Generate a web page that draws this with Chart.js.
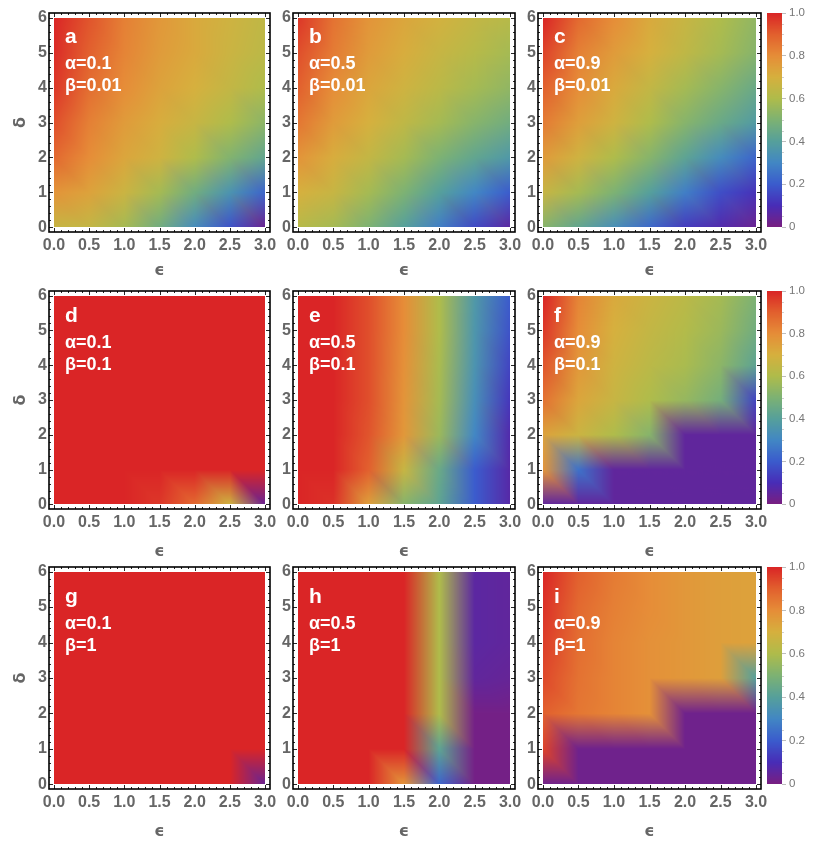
<!DOCTYPE html>
<html>
<head>
<meta charset="utf-8">
<script src="https://cdn.jsdelivr.net/npm/chart.js@4.4.1/dist/chart.umd.min.js"></script>
<style>
  html, body { margin: 0; padding: 0; background: #fff; }
  #wrap { position: relative; width: 830px; height: 858px; overflow: hidden; }
  #wrap canvas { position: absolute; }
</style>
</head>
<body>
<div id="wrap"></div>
<script>
// grid on which the values were sampled
const epsValues = [0, 0.5, 1, 1.5, 2, 2.5, 3];
const deltaValues = [0, 1, 2, 3, 4, 5, 6];

// tick labels
const epsTicks = [0, 0.5, 1, 1.5, 2, 2.5, 3];
const deltaTicks = [0, 1, 2, 3, 4, 5, 6];
const barTicks = [0, 0.2, 0.4, 0.6, 0.8, 1];

// panel captions
const letters = ['a', 'b', 'c', 'd', 'e', 'f', 'g', 'h', 'i'];
const alphas = [0.1, 0.5, 0.9, 0.1, 0.5, 0.9, 0.1, 0.5, 0.9];
const betas = [0.01, 0.01, 0.01, 0.1, 0.1, 0.1, 1, 1, 1];

// values, one row per delta (top row = delta 6), one column per epsilon
const gridA = [
  [1.00, 0.92, 0.83, 0.77, 0.72, 0.68, 0.64],
  [0.99, 0.90, 0.82, 0.76, 0.72, 0.67, 0.63],
  [0.97, 0.87, 0.80, 0.74, 0.70, 0.65, 0.60],
  [0.93, 0.83, 0.76, 0.71, 0.66, 0.60, 0.53],
  [0.88, 0.80, 0.73, 0.68, 0.60, 0.51, 0.43],
  [0.78, 0.74, 0.67, 0.58, 0.47, 0.35, 0.22],
  [0.66, 0.65, 0.58, 0.47, 0.32, 0.18, 0.03]
];
const gridB = [
  [0.97, 0.86, 0.78, 0.73, 0.69, 0.65, 0.62],
  [0.93, 0.84, 0.76, 0.71, 0.66, 0.62, 0.58],
  [0.90, 0.80, 0.73, 0.68, 0.63, 0.58, 0.54],
  [0.85, 0.76, 0.70, 0.64, 0.58, 0.52, 0.47],
  [0.78, 0.71, 0.65, 0.58, 0.50, 0.43, 0.37],
  [0.70, 0.66, 0.58, 0.50, 0.40, 0.30, 0.20],
  [0.62, 0.58, 0.50, 0.40, 0.28, 0.16, 0.06]
];
const gridC = [
  [1.00, 0.88, 0.80, 0.72, 0.66, 0.60, 0.54],
  [0.95, 0.83, 0.76, 0.70, 0.64, 0.58, 0.52],
  [0.90, 0.80, 0.72, 0.65, 0.58, 0.52, 0.45],
  [0.84, 0.75, 0.68, 0.60, 0.52, 0.45, 0.38],
  [0.76, 0.68, 0.60, 0.52, 0.42, 0.32, 0.22],
  [0.66, 0.58, 0.50, 0.40, 0.28, 0.17, 0.11],
  [0.52, 0.43, 0.33, 0.23, 0.13, 0.08, 0.03]
];
const gridD = [
  [1, 1, 1, 1, 1, 1, 1],
  [1, 1, 1, 1, 1, 1, 1],
  [1, 1, 1, 1, 1, 1, 1],
  [1, 1, 1, 1, 1, 1, 1],
  [1, 1, 1, 1, 1, 1, 1],
  [1, 1, 1, 1, 1, 1, 1],
  [1, 1, 1, 0.97, 0.88, 0.68, 0.03]
];
const gridE = [
  [1, 1, 0.93, 0.80, 0.60, 0.37, 0.20],
  [1, 1, 0.93, 0.80, 0.60, 0.36, 0.18],
  [1, 1, 0.93, 0.79, 0.59, 0.35, 0.15],
  [1, 1, 0.93, 0.78, 0.58, 0.33, 0.12],
  [1, 1, 0.92, 0.77, 0.56, 0.30, 0.08],
  [1, 1, 0.90, 0.66, 0.45, 0.20, 0.07],
  [1, 0.98, 0.75, 0.52, 0.42, 0.20, 0.07]
];
const gridF = [
  [1.00, 0.82, 0.72, 0.67, 0.63, 0.58, 0.50],
  [0.97, 0.80, 0.70, 0.65, 0.61, 0.56, 0.47],
  [0.92, 0.77, 0.68, 0.63, 0.59, 0.53, 0.42],
  [0.86, 0.73, 0.66, 0.60, 0.55, 0.48, 0.15],
  [0.74, 0.67, 0.60, 0.52, 0.05, 0.05, 0.05],
  [0.78, 0.25, 0.05, 0.05, 0.05, 0.05, 0.05],
  [0.05, 0.05, 0.05, 0.05, 0.05, 0.05, 0.05]
];
const gridG = [
  [1, 1, 1, 1, 1, 1, 1],
  [1, 1, 1, 1, 1, 1, 1],
  [1, 1, 1, 1, 1, 1, 1],
  [1, 1, 1, 1, 1, 1, 1],
  [1, 1, 1, 1, 1, 1, 1],
  [1, 1, 1, 1, 1, 1, 1],
  [1, 1, 1, 1, 1, 1, 0.03]
];
const gridH = [
  [1, 1, 1, 1, 0.60, 0.06, 0.05],
  [1, 1, 1, 1, 0.60, 0.06, 0.05],
  [1, 1, 1, 1, 0.60, 0.06, 0.05],
  [1, 1, 1, 1, 0.60, 0.05, 0.04],
  [1, 1, 1, 1, 0.60, 0.01, 0.01],
  [1, 1, 1, 1, 0.42, 0.01, 0.01],
  [1, 1, 1, 0.78, 0.22, 0.01, 0.01]
];
const gridI = [
  [1.00, 0.90, 0.84, 0.80, 0.77, 0.75, 0.74],
  [0.98, 0.88, 0.83, 0.80, 0.77, 0.75, 0.74],
  [0.96, 0.87, 0.82, 0.79, 0.77, 0.75, 0.74],
  [0.94, 0.86, 0.82, 0.79, 0.77, 0.75, 0.40],
  [0.90, 0.85, 0.82, 0.79, 0.02, 0.02, 0.02],
  [0.95, 0.02, 0.02, 0.02, 0.02, 0.02, 0.02],
  [0.02, 0.02, 0.02, 0.02, 0.02, 0.02, 0.02]
];
const grids = [gridA, gridB, gridC, gridD, gridE, gridF, gridG, gridH, gridI];

// rainbow colour function, stops every 0.1
const rainbowColors = [
  [121, 31, 129], [72, 45, 183], [59, 92, 205], [66, 135, 196], [86, 160, 155],
  [125, 178, 115], [175, 188, 75], [214, 176, 62], [230, 141, 56], [226, 96, 46],
  [218, 37, 38]
];
function rainbow(v) {
  v = Math.max(0, Math.min(1, v)) * (rainbowColors.length - 1);
  const k = Math.min(Math.floor(v), rainbowColors.length - 2);
  const t = v - k;
  const a = rainbowColors[k], b = rainbowColors[k + 1];
  return [a[0] + (b[0] - a[0]) * t, a[1] + (b[1] - a[1]) * t, a[2] + (b[2] - a[2]) * t];
}

// frame positions on the page
const colLeft = [49, 293, 538];
const colRight = [270, 515, 761];
const rowTop = [13, 291, 567];
const rowBottom = [232, 509, 789];
const Y_AXIS_W = 46, X_AXIS_H = 56, PAD_T = 12, PAD_R = 14;

const tickFont = { family: 'Liberation Sans', size: 16, weight: 'bold' };
const tickColor = '#666666';

const wrap = document.getElementById('wrap');
function makeCanvas(left, top, w, h) {
  const c = document.createElement('canvas');
  c.width = w; c.height = h;
  c.style.left = left + 'px'; c.style.top = top + 'px';
  c.style.width = w + 'px'; c.style.height = h + 'px';
  wrap.appendChild(c);
  return c;
}

// density map: colours at the sample points, blended linearly over triangles
const heatmapPlugin = {
  id: 'heatmap',
  beforeDatasetsDraw(chart) {
    const { ctx, chartArea: area, scales: { x, y } } = chart;
    const pts = chart.data.datasets[0].data;
    const nx = epsValues.length, ny = deltaValues.length;
    const cols = pts.map(p => rainbow(p.v));
    const e0 = epsValues[0], e1 = epsValues[nx - 1], eStep = epsValues[1] - epsValues[0];
    const d0 = deltaValues[0], d1 = deltaValues[ny - 1], dStep = deltaValues[1] - deltaValues[0];
    const w = Math.round(area.right - area.left), h = Math.round(area.bottom - area.top);
    const off = document.createElement('canvas');
    off.width = w; off.height = h;
    const octx = off.getContext('2d');
    const img = octx.createImageData(w, h);
    for (let py = 0; py < h; py++) {
      const d = y.getValueForPixel(area.top + py + 0.5);
      if (d < d0 || d > d1) continue;
      const gy = (d - d0) / dStep;
      const j = Math.min(Math.floor(gy), ny - 2);
      const v = gy - j;
      for (let px = 0; px < w; px++) {
        const e = x.getValueForPixel(area.left + px + 0.5);
        if (e < e0 || e > e1) continue;
        const gx = (e - e0) / eStep;
        const i = Math.min(Math.floor(gx), nx - 2);
        const u = gx - i;
        const c00 = cols[j * nx + i], c10 = cols[j * nx + i + 1];
        const c01 = cols[(j + 1) * nx + i], c11 = cols[(j + 1) * nx + i + 1];
        let w00, w10, w01, w11;
        if (u + v <= 1) { w00 = 1 - u - v; w10 = u; w01 = v; w11 = 0; }
        else { w00 = 0; w10 = 1 - v; w01 = 1 - u; w11 = u + v - 1; }
        const k = (py * w + px) * 4;
        for (let ch = 0; ch < 3; ch++) {
          img.data[k + ch] = c00[ch] * w00 + c10[ch] * w10 + c01[ch] * w01 + c11[ch] * w11;
        }
        img.data[k + 3] = 255;
      }
    }
    octx.putImageData(img, 0, 0);
    ctx.drawImage(off, area.left, area.top);
  }
};

function subdivide(ticks, parts) {
  const out = [];
  for (let k = 0; k < ticks.length - 1; k++) {
    for (let m = 1; m < parts; m++) out.push(ticks[k] + (ticks[k + 1] - ticks[k]) * m / parts);
  }
  return out;
}

// Mathematica style frame, ticks on all four sides pointing inwards
const framePlugin = {
  id: 'frame',
  afterDraw(chart) {
    const { ctx, chartArea: a, scales: { x, y } } = chart;
    ctx.save();
    ctx.strokeStyle = '#262626';
    ctx.lineWidth = 1;
    const tick = (px, len, horizontal) => {
      const p = Math.round(px) + 0.5;
      ctx.beginPath();
      if (horizontal) {
        ctx.moveTo(p, a.bottom); ctx.lineTo(p, a.bottom - len);
        ctx.moveTo(p, a.top); ctx.lineTo(p, a.top + len);
      } else {
        ctx.moveTo(a.left, p); ctx.lineTo(a.left + len, p);
        ctx.moveTo(a.right, p); ctx.lineTo(a.right - len, p);
      }
      ctx.stroke();
    };
    epsTicks.forEach(v => tick(x.getPixelForValue(v), 4, true));
    subdivide(epsTicks, 5).forEach(v => tick(x.getPixelForValue(v), 2, true));
    deltaTicks.forEach(v => tick(y.getPixelForValue(v), 4, false));
    subdivide(deltaTicks, 5).forEach(v => tick(y.getPixelForValue(v), 2, false));
    ctx.strokeStyle = '#000';
    ctx.lineWidth = 1.6;
    ctx.strokeRect(a.left, a.top, a.right - a.left, a.bottom - a.top);
    ctx.restore();
  }
};

const captionPlugin = {
  id: 'caption',
  afterDraw(chart, args, opts) {
    const { ctx, chartArea: a } = chart;
    const dy = opts.shift || 0;
    ctx.save();
    ctx.fillStyle = '#ffffff';
    ctx.textBaseline = 'alphabetic';
    ctx.textAlign = 'left';
    ctx.font = 'bold 21px "Liberation Sans"';
    ctx.fillText(opts.letter, a.left + 16, a.top + 30 + dy);
    ctx.font = 'bold 18px "Liberation Sans"';
    ctx.fillText('α=' + opts.alpha, a.left + 16, a.top + 56 + dy);
    ctx.fillText('β=' + opts.beta, a.left + 16, a.top + 78 + dy);
    ctx.restore();
  }
};

function samplePoints(grid) {
  const pts = [];
  deltaValues.forEach((d, j) => {
    epsValues.forEach((e, i) => {
      pts.push({ x: e, y: d, v: grid[deltaValues.length - 1 - j][i] });
    });
  });
  return pts;
}

for (let r = 0; r < 3; r++) {
  for (let c = 0; c < 3; c++) {
    const n = r * 3 + c;
    const fw = colRight[c] - colLeft[c], fh = rowBottom[r] - rowTop[r];
    const cv = makeCanvas(colLeft[c] - Y_AXIS_W, rowTop[r] - PAD_T, Y_AXIS_W + fw + PAD_R, PAD_T + fh + X_AXIS_H);
    new Chart(cv, {
      type: 'scatter',
      data: { datasets: [{ data: samplePoints(grids[n]), pointRadius: 0 }] },
      options: {
        responsive: false,
        animation: false,
        events: [],
        layout: { padding: { left: 0, top: PAD_T, right: PAD_R, bottom: 0 } },
        plugins: {
          legend: { display: false },
          tooltip: { enabled: false },
          caption: { letter: letters[n], alpha: alphas[n], beta: betas[n], shift: [0, 1, 6][r] }
        },
        scales: {
          x: {
            type: 'linear', min: -0.07, max: 3.07,
            afterBuildTicks: s => { s.ticks = epsTicks.map(v => ({ value: v })); },
            afterFit: s => { s.height = X_AXIS_H; },
            grid: { display: false, drawTicks: false },
            border: { display: false },
            ticks: { padding: 4, maxRotation: 0, autoSkip: false, font: tickFont, color: tickColor,
                     callback: v => Number(v).toFixed(1) },
            title: { display: true, text: 'ϵ', color: tickColor, padding: { top: 0, bottom: r === 0 ? 8 : 4 },
                     font: { family: 'DejaVu Sans', size: 16, weight: 'bold' } }
          },
          y: {
            type: 'linear', min: -0.13, max: 6.13,
            afterBuildTicks: s => { s.ticks = deltaTicks.map(v => ({ value: v })); },
            afterFit: s => { s.width = Y_AXIS_W; },
            grid: { display: false, drawTicks: false },
            border: { display: false },
            ticks: { padding: 2, autoSkip: false, font: tickFont, color: tickColor,
                     callback: v => String(v) },
            title: { display: c === 0, text: 'δ', color: tickColor, padding: { top: 8, bottom: 0 },
                     font: { family: 'DejaVu Sans', size: 16, weight: 'bold' } }
          }
        }
      },
      plugins: [heatmapPlugin, framePlugin, captionPlugin]
    });
  }

  // colour bar for the row
  const barLeft = 767, barW = 15;
  const barTop = rowTop[r], barBottom = rowBottom[r] - 5;
  const bcv = makeCanvas(barLeft - 5, barTop - PAD_T, 830 - (barLeft - 5), barBottom - barTop + 2 * PAD_T);
  new Chart(bcv, {
    type: 'scatter',
    data: { datasets: [] },
    options: {
      responsive: false,
      animation: false,
      events: [],
      layout: { padding: { left: 5, top: PAD_T, right: 0, bottom: PAD_T } },
      plugins: { legend: { display: false }, tooltip: { enabled: false } },
      scales: {
        x: { display: false, min: 0, max: 1 },
        y: {
          position: 'right', min: 0, max: 1,
          afterBuildTicks: s => { s.ticks = barTicks.map(v => ({ value: v })); },
          afterFit: s => { s.width = 830 - (barLeft - 5) - 5 - barW; },
          grid: { drawOnChartArea: false, drawTicks: true, tickLength: 4, color: '#bdbdbd' },
          border: { display: false },
          ticks: { padding: 3, font: { family: 'Liberation Sans', size: 11.5 }, color: '#777777',
                   callback: v => (v === 0 ? '0' : Number(v).toFixed(1)) }
        }
      }
    },
    plugins: [{
      id: 'colorbar',
      beforeDatasetsDraw(chart) {
        const { ctx, chartArea: a, scales: { y } } = chart;
        ctx.save();
        for (let py = Math.floor(a.top); py < Math.ceil(a.bottom); py++) {
          const c = rainbow(y.getValueForPixel(py + 0.5));
          ctx.fillStyle = `rgb(${c[0] | 0},${c[1] | 0},${c[2] | 0})`;
          ctx.fillRect(a.left, py, a.right - a.left, 1);
        }
        ctx.strokeStyle = '#d0d0d0';
        ctx.lineWidth = 1;
        subdivide(barTicks, 4).forEach(v => {
          const p = Math.round(y.getPixelForValue(v)) + 0.5;
          ctx.beginPath(); ctx.moveTo(a.right, p); ctx.lineTo(a.right + 2, p); ctx.stroke();
        });
        ctx.restore();
      }
    }]
  });
}
</script>
</body>
</html>
